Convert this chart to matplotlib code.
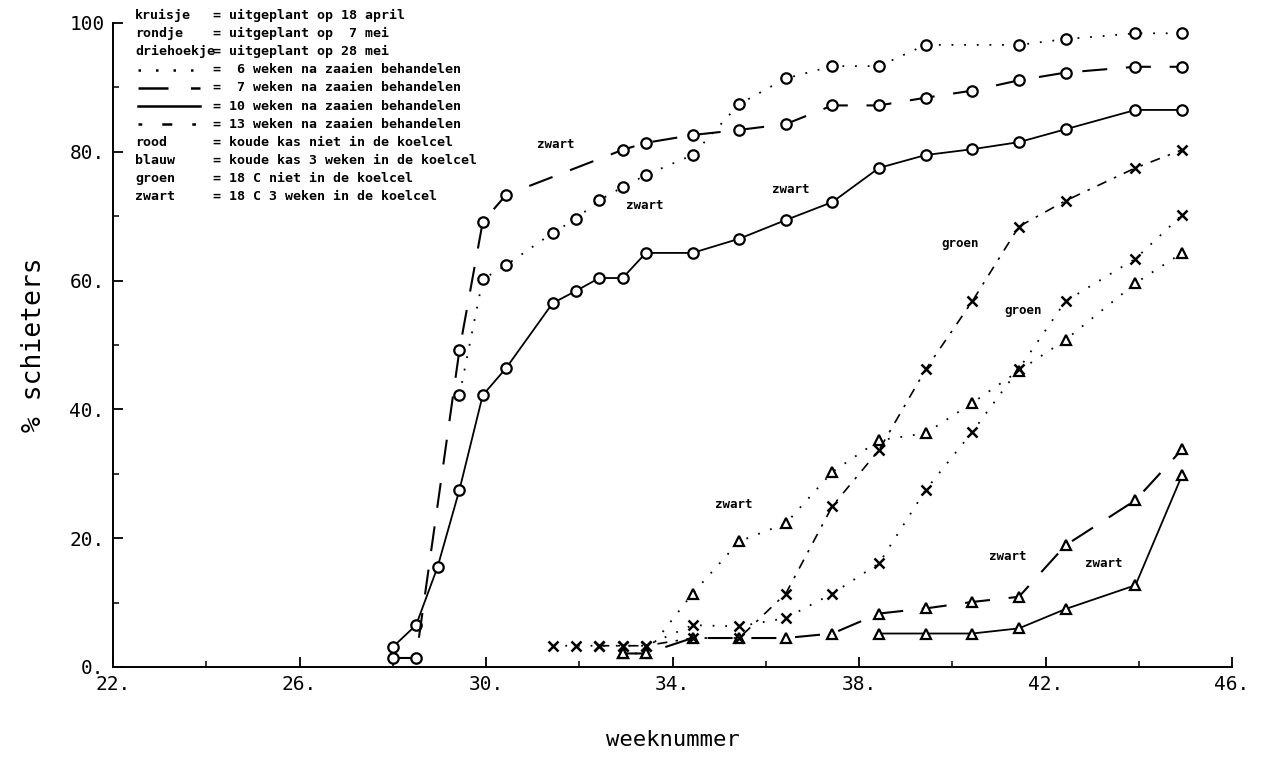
import matplotlib
matplotlib.use("Agg")
import matplotlib.pyplot as plt
from matplotlib.lines import Line2D

# ---------------- data ----------------
x_ticks = [22, 26, 30, 34, 38, 42, 46]
x_tick_labels = ["22.", "26.", "30.", "34.", "38.", "42.", "46."]
y_ticks = [0, 20, 40, 60, 80, 100]
y_tick_labels = ["0.", "20.", "40.", "60.", "80.", "100"]

# circles (rondje)
wk_circ_solid = [28.0, 28.5, 28.96, 29.43, 29.93, 30.43, 31.43, 31.93, 32.43, 32.93, 33.43,
                 34.43, 35.43, 36.43, 37.43, 38.43, 39.43, 40.43, 41.43, 42.43, 43.93, 44.93]
circ_solid = [3.1, 6.5, 15.5, 27.5, 42.2, 46.4, 56.5, 58.4, 60.4, 60.4, 64.3,
              64.3, 66.5, 69.4, 72.2, 77.5, 79.5, 80.4, 81.5, 83.5, 86.5, 86.5]

wk_circ_dashed = [28.0, 28.5, 29.43, 29.93, 30.43, 32.93, 33.43, 34.43, 35.43, 36.43,
                  37.43, 38.43, 39.43, 40.43, 41.43, 42.43, 43.93, 44.93]
circ_dashed = [1.4, 1.4, 49.2, 69.1, 73.3, 80.3, 81.4, 82.6, 83.4, 84.3,
               87.2, 87.2, 88.4, 89.5, 91.1, 92.3, 93.2, 93.2]

wk_circ_dotted = [29.43, 29.93, 30.43, 31.43, 31.93, 32.43, 32.93, 33.43, 34.43, 35.43,
                  36.43, 37.43, 38.43, 39.43, 41.43, 42.43, 43.93, 44.93]
circ_dotted = [42.2, 60.2, 62.4, 67.4, 69.6, 72.5, 74.5, 76.4, 79.5, 87.4,
               91.4, 93.3, 93.3, 96.6, 96.6, 97.5, 98.4, 98.4]

# triangles (driehoekje)
wk_tri_dotted = [32.93, 33.43, 34.43, 35.43, 36.43, 37.43, 38.43, 39.43, 40.43, 41.43,
                 42.43, 43.93, 44.93]
tri_dotted = [2.1, 2.1, 11.4, 19.5, 22.3, 30.3, 35.2, 36.3, 41.0, 46.0, 50.8, 59.6, 64.3]

wk_tri_dashed = [32.93, 33.43, 34.43, 35.43, 36.43, 37.43, 38.43, 39.43, 40.43, 41.43,
                 42.43, 43.93, 44.93]
tri_dashed = [2.1, 2.1, 4.5, 4.5, 4.5, 5.2, 8.3, 9.1, 10.1, 10.9, 18.9, 25.9, 33.8]

wk_tri_solid = [38.43, 39.43, 40.43, 41.43, 42.43, 43.93, 44.93]
tri_solid = [5.2, 5.2, 5.2, 6.0, 9.0, 12.7, 29.8]

# crosses (kruisje)
wk_x_dotted = [31.43, 31.93, 32.43, 32.93, 33.43, 34.43, 35.43, 36.43, 37.43, 38.43,
               39.43, 40.43, 41.43, 42.43, 43.93, 44.93]
x_dotted = [3.3, 3.3, 3.3, 3.3, 3.3, 6.5, 6.3, 7.6, 11.4, 16.1, 27.5, 36.5, 46.3, 56.8, 63.4, 70.2]

wk_x_dashdot = [32.43, 32.93, 33.43, 34.43, 35.43, 36.43, 37.43, 38.43, 39.43, 40.43,
                41.43, 42.43, 43.93, 44.93]
x_dashdot = [3.3, 3.3, 3.3, 4.5, 4.5, 11.4, 25.0, 33.7, 46.2, 56.8, 68.4, 72.4, 77.5, 80.3]

legend_names = ["kruisje", "rondje", "driehoekje", "", "", "", "", "rood", "blauw", "groen", "zwart"]
legend_texts = ["= uitgeplant op 18 april",
                "= uitgeplant op  7 mei",
                "= uitgeplant op 28 mei",
                "=  6 weken na zaaien behandelen",
                "=  7 weken na zaaien behandelen",
                "= 10 weken na zaaien behandelen",
                "= 13 weken na zaaien behandelen",
                "= koude kas niet in de koelcel",
                "= koude kas 3 weken in de koelcel",
                "= 18 C niet in de koelcel",
                "= 18 C 3 weken in de koelcel"]

# ---------------- figure ----------------
W, H = 1263, 762
fig = plt.figure(figsize=(W / 100, H / 100), dpi=100)
ax = fig.add_axes([113 / W, 1 - 667 / H, (1232 - 113) / W, 644 / H])
ax.set_xlim(22, 46)
ax.set_ylim(0, 100)

DOT = (0, (1, 6))
DASH = (0, (12, 9))
DASHDOT = (0, (6, 5, 1.5, 5))
mk = dict(color="black", markerfacecolor="white", markeredgecolor="black",
          markeredgewidth=1.6, markersize=7.5)

ax.plot(wk_circ_solid, circ_solid, ls="-", lw=1.3, marker="o", **mk)
ax.plot(wk_circ_dashed, circ_dashed, ls=DASH, lw=1.5, marker="o", **mk)
ax.plot(wk_circ_dotted, circ_dotted, ls=DOT, lw=1.3, marker="o", **mk)

ax.plot(wk_tri_dotted, tri_dotted, ls=DOT, lw=1.3, marker="^", **mk)
ax.plot(wk_tri_dashed, tri_dashed, ls=DASH, lw=1.5, marker="^", **mk)
ax.plot(wk_tri_solid, tri_solid, ls="-", lw=1.3, marker="^", **mk)

mkx = dict(color="black", markeredgewidth=1.8, markersize=7)
ax.plot(wk_x_dotted, x_dotted, ls=DOT, lw=1.3, marker="x", **mkx)
ax.plot(wk_x_dashdot, x_dashdot, ls=DASHDOT, lw=1.2, marker="x", **mkx)

# annotations
ann_font = dict(family="DejaVu Sans Mono", fontweight="bold", fontsize=9, ha="center", va="center")
for txt, xx, yy in [("zwart", 31.5, 81.1), ("zwart", 33.41, 71.7), ("zwart", 36.54, 74.2),
                    ("zwart", 35.32, 25.2), ("zwart", 41.19, 17.1), ("zwart", 43.25, 16.1),
                    ("groen", 40.16, 65.7), ("groen", 41.52, 55.3)]:
    ax.text(xx, yy, txt, **ann_font)

# axes styling
for s in ["top", "right"]:
    ax.spines[s].set_visible(False)
for s in ["left", "bottom"]:
    ax.spines[s].set_linewidth(1.4)
ax.set_xticks(x_ticks)
ax.set_xticklabels(x_tick_labels)
ax.set_yticks(y_ticks)
ax.set_yticklabels(y_tick_labels)
ax.set_xticks([24, 28, 32, 36, 40, 44], minor=True)
ax.set_yticks([10, 30, 50, 70, 90], minor=True)
ax.tick_params(which="major", direction="in", length=7, width=1.3, labelsize=14, pad=6)
ax.tick_params(which="minor", direction="in", length=4, width=1.1)
for lab in ax.get_xticklabels() + ax.get_yticklabels():
    lab.set_family("DejaVu Sans Mono")
ax.set_xlabel("weeknummer", family="DejaVu Sans Mono", fontsize=16, labelpad=26)
ax.set_ylabel("% schieters", family="DejaVu Sans Mono", fontsize=19, labelpad=16)

# legend block (text in figure pixels)
def fx(px):
    return px / W

def fy(py):
    return 1 - py / H

leg_font = dict(family="DejaVu Sans Mono", fontweight="bold", fontsize=9.5, va="center")
for i, (nm, tx) in enumerate(zip(legend_names, legend_texts)):
    yy = 15 + 18.2 * i
    if nm:
        fig.text(fx(135), fy(yy), nm, ha="left", **leg_font)
    fig.text(fx(213), fy(yy), tx, ha="left", **leg_font)

styles = [DOT, DASH, "-", (0, (1.5, 8, 4, 8))]
for j, st in enumerate(styles):
    yy = 15 + 18.2 * (3 + j)
    fig.add_artist(Line2D([fx(138), fx(200)], [fy(yy), fy(yy)], transform=fig.transFigure,
                          color="black", lw=1.8, ls=st))

fig.savefig("out.png", dpi=100)
